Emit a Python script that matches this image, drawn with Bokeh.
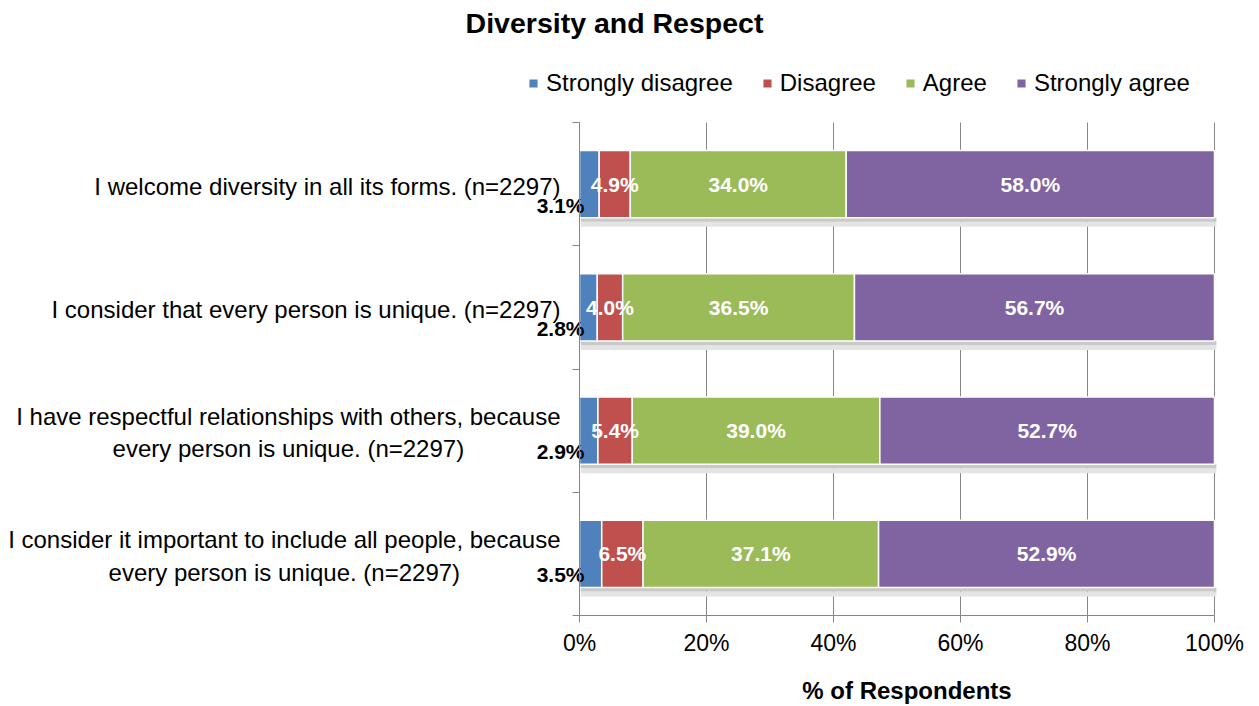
import numpy as np
from bokeh.plotting import figure
from bokeh.models import (ColumnDataSource, Range1d, FixedTicker, PrintfTickFormatter,
                          Legend, LegendItem)
from bokeh.core.properties import value
from bokeh.embed import file_html
from bokeh.resources import INLINE

# ---------------- data ----------------
title_text = "Diversity and Respect"
categories = [
    "I welcome diversity in all its forms. (n=2297)",
    "I consider that every person is unique. (n=2297)",
    "I have respectful relationships with others, because\nevery person is unique. (n=2297)",
    "I consider it important to include all people, because\nevery person is unique. (n=2297)",
]
series_names = ["Strongly disagree", "Disagree", "Agree", "Strongly agree"]
strongly_disagree = [3.1, 2.8, 2.9, 3.5]
disagree = [4.9, 4.0, 5.4, 6.5]
agree = [34.0, 36.5, 39.0, 37.1]
strongly_agree = [58.0, 56.7, 52.7, 52.9]
x_ticks = [0, 20, 40, 60, 80, 100]
x_label = "% of Respondents"
colors = ["#4F81BD", "#C0504D", "#9BBB59", "#8064A2"]

# ---------------- layout (pixels) ----------------
FONT = "Liberation Sans"
W, H = 1256, 706
X0_PX, X100_PX = 579, 1214               # where 0% and 100% sit
Y_TOP_PX, Y_BOT_PX = 122, 615            # top / bottom of the category area
n = len(categories)
px_x = (X100_PX - X0_PX) / 100.0
px_y = (Y_BOT_PX - Y_TOP_PX) / n
x_start = -X0_PX / px_x
x_end = x_start + W / px_x
y_start = -(H - Y_BOT_PX) / px_y
y_end = n + Y_TOP_PX / px_y

ypos = np.array([n - i - 0.5 for i in range(n)])
series = [strongly_disagree, disagree, agree, strongly_agree]

p = figure(width=W, height=H, x_range=Range1d(x_start, x_end), y_range=Range1d(y_start, y_end),
           output_backend="svg", toolbar_location=None, title=None, y_axis_location="right",
           min_border_left=0, min_border_right=0, min_border_top=0, min_border_bottom=0)
p.outline_line_color = None
p.background_fill_color = "white"
p.border_fill_color = "white"
p.xgrid.visible = False
p.ygrid.visible = False

# value axis at y = 0
p.xaxis.fixed_location = 0
p.xaxis.ticker = FixedTicker(ticks=x_ticks)
p.xaxis.bounds = (x_ticks[0], x_ticks[-1])
p.xaxis.formatter = PrintfTickFormatter(format="%d%%")
p.xaxis.major_label_text_font = FONT
p.xaxis.major_label_text_font_size = "23px"
p.xaxis.major_label_text_color = "black"
p.xaxis.major_label_standoff = 7
p.xaxis.major_tick_out = 7
p.xaxis.major_tick_in = 0
p.xaxis.minor_tick_line_color = None
p.xaxis.axis_line_color = "#868686"
p.xaxis.major_tick_line_color = "#868686"

# category axis line at x = 0, ticks at the category boundaries pointing left
p.yaxis.fixed_location = 0
p.yaxis.bounds = (0, n)
p.yaxis.ticker = FixedTicker(ticks=list(range(n + 1)))
p.yaxis.major_label_overrides = {i: "" for i in range(n + 1)}
p.yaxis.major_label_standoff = 0
p.yaxis.major_tick_out = 0
p.yaxis.major_tick_in = 7
p.yaxis.minor_tick_line_color = None
p.yaxis.axis_line_color = "#868686"
p.yaxis.major_tick_line_color = "#868686"

# x-axis title, under the 0-100 % span
p.text(x=[(x_ticks[0] + x_ticks[-1]) / 2 + 10 / px_x], y=[-(690 - Y_BOT_PX) / px_y],
       text=[x_label], text_align="center", text_baseline="middle", text_font=value(FONT),
       text_font_style="bold", text_font_size="24px", text_color="black")

# vertical gridlines within the category area
gx = x_ticks[1:]
p.segment(x0=gx, x1=gx, y0=[0] * len(gx), y1=[n] * len(gx), line_color="#868686", line_width=1)

bar_h = 0.545

# shadow below bars
totals = np.sum(np.array(series), axis=0)
shadow_src = ColumnDataSource(dict(left=np.zeros(n) + 0.2, right=totals + 0.3,
                                   top=ypos - bar_h / 2, mid=ypos - bar_h / 2 - 4 / px_y,
                                   bottom=ypos - bar_h / 2 - 9 / px_y))
p.quad(left="left", right="right", top="mid", bottom="bottom", source=shadow_src,
       fill_color="#e4e4e4", line_color=None)
p.quad(left="left", right="right", top="top", bottom="mid", source=shadow_src,
       fill_color="#c9c9c9", line_color=None)

# bars
items = []
left = np.zeros(n)
label_x, label_y, label_t = [], [], []
first_x, first_y, first_t = [], [], []
for k, (name, vals, col) in enumerate(zip(series_names, series, colors)):
    vals = np.array(vals)
    src = ColumnDataSource(dict(y=ypos, left=left.copy(), right=left + vals))
    r = p.hbar(y="y", left="left", right="right", height=bar_h, source=src,
               fill_color=col, line_color="white", line_width=1.5)
    items.append(LegendItem(label=name, renderers=[r]))
    for i in range(n):
        txt = f"{vals[i]:.1f}%"
        if k == 0:
            first_x.append(left[i]); first_y.append(ypos[i] - 21 / px_y); first_t.append(txt)
        else:
            label_x.append(left[i] + vals[i] / 2); label_y.append(ypos[i]); label_t.append(txt)
    left = left + vals

p.text(x=label_x, y=label_y, text=label_t, text_color="white", text_font=value(FONT),
       text_font_style="bold", text_font_size="21px", text_align="center",
       text_baseline="middle")

p.text(x=first_x, y=first_y, text=first_t, x_offset=5, text_color="black",
       text_font=value(FONT), text_font_style="bold", text_font_size="21px",
       text_align="right", text_baseline="middle")

# category labels (right-aligned block, centred lines)
p.text(x=[0] * n, y=list(ypos - 2 / px_y), text=categories, x_offset=-19,
       anchor="center_right", text_align="center", text_baseline="middle",
       text_font=value(FONT), text_font_size="24px", text_color="black",
       text_line_height=1.2)

# title
p.text(x=[(614 - X0_PX) / px_x], y=[n + (Y_TOP_PX - 22) / px_y], text=[title_text],
       text_align="center", text_baseline="middle", text_font=value(FONT),
       text_font_style="bold", text_font_size="28.5px", text_color="black")

legend = Legend(items=items, orientation="horizontal",
                location=(527, H - 97),
                glyph_width=12, glyph_height=12, label_standoff=7, spacing=28,
                padding=0, margin=0, border_line_alpha=0, background_fill_alpha=0,
                label_text_font=FONT, label_text_font_size="24px", label_text_color="black")
p.add_layout(legend)

open("out.html", "w").write(file_html(p, INLINE))
